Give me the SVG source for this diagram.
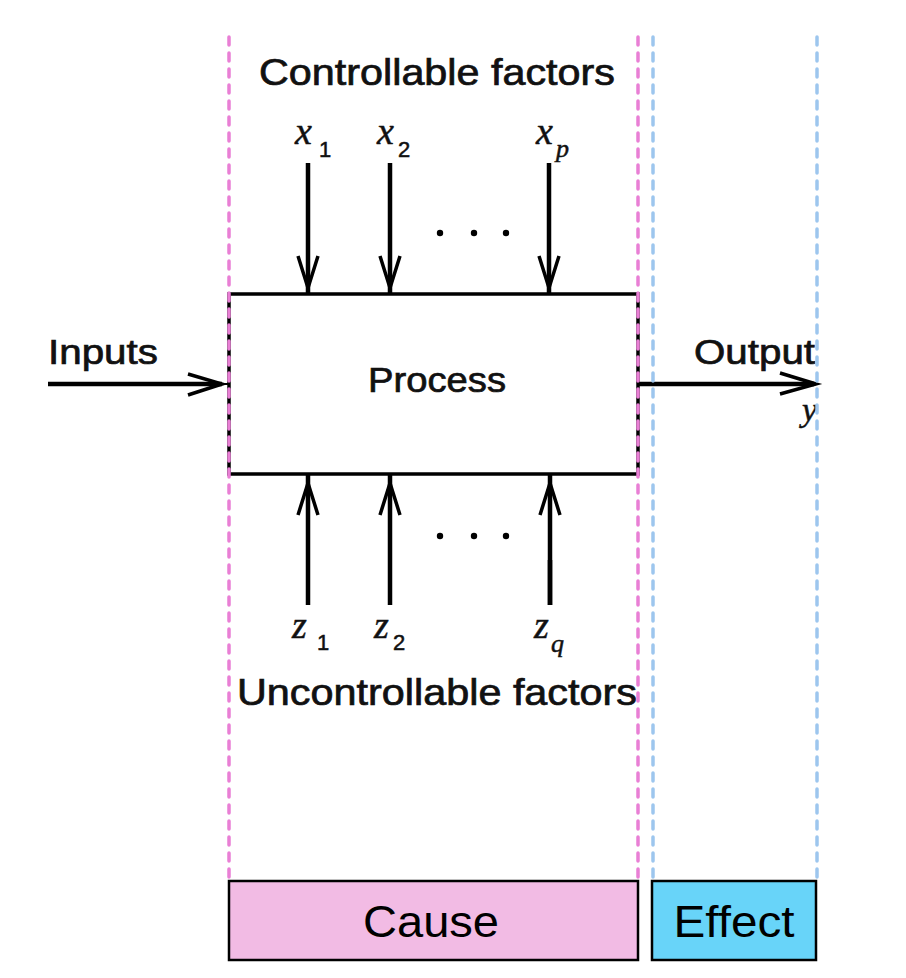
<svg xmlns="http://www.w3.org/2000/svg" width="906" height="978" viewBox="0 0 906 978">
<style>
.lbl{font-family:"Liberation Sans",Arial,sans-serif;fill:#111;stroke:#111;stroke-width:0.7}
.var{font-family:"Liberation Serif","Times New Roman",serif;font-style:italic;fill:#111;stroke:#111;stroke-width:0.5}
.sub{font-family:"Liberation Sans",Arial,sans-serif;fill:#111;stroke:#111;stroke-width:0.5}
.pk{stroke:#E97FD5;stroke-width:3.5;stroke-dasharray:8 8;stroke-linecap:round;fill:none}
.bl{stroke:#9DC6EE;stroke-width:3.5;stroke-dasharray:8 8;stroke-linecap:round;fill:none}
.shaft{stroke:#000;stroke-width:4.5;fill:none}
.head{stroke:#000;stroke-width:3.5;fill:none;stroke-linejoin:miter}
.dot{fill:#000}
.big{font-family:"Liberation Sans",Arial,sans-serif;fill:#000;font-size:45px}
</style>
<rect width="906" height="978" fill="#fff"/>

<g id="process">
<rect x="229" y="294" width="409" height="180" fill="#fff" stroke="#000" stroke-width="3.5"/>
<text class="lbl" x="437" y="392" font-size="35" text-anchor="middle" textLength="138" lengthAdjust="spacingAndGlyphs">Process</text>
</g>

<g id="connectors">
<!-- inputs -->
<line class="shaft" x1="48" y1="384" x2="222" y2="384" stroke-width="6"/>
<line x1="220" y1="384" x2="229" y2="384" stroke="#000" stroke-width="2"/>
<path class="head" d="M188,374 L222,384 L188,395"/>
<!-- output -->
<line class="shaft" x1="638" y1="384" x2="814" y2="384" stroke-width="6"/>
<path class="head" d="M780,373 L816,384 L780,394"/>
<!-- controllable arrows -->
<line class="shaft" x1="308" y1="163" x2="308" y2="294"/>
<path class="head" d="M298,256 L308,288 L318,256"/>
<line class="shaft" x1="390" y1="163" x2="390" y2="294"/>
<path class="head" d="M380,256 L390,288 L400,256"/>
<line class="shaft" x1="549" y1="163" x2="549" y2="294"/>
<path class="head" d="M539,256 L549,288 L559,256"/>
<!-- uncontrollable arrows -->
<line class="shaft" x1="308" y1="605" x2="308" y2="474"/>
<path class="head" d="M298,515 L308,483 L318,515"/>
<line class="shaft" x1="390" y1="605" x2="390" y2="474"/>
<path class="head" d="M380,515 L390,483 L400,515"/>
<line class="shaft" x1="550" y1="605" x2="550" y2="474"/>
<line class="shaft" x1="550" y1="560" x2="550" y2="605" stroke-width="6"/>
<path class="head" d="M540,515 L550,483 L560,515"/>
</g>

<g id="controllable-factors">
<text class="lbl" x="259" y="85" font-size="36" textLength="356" lengthAdjust="spacingAndGlyphs">Controllable factors</text>
<text class="var" x="295" y="144" font-size="38">x</text><text class="sub" x="319" y="157" font-size="22">1</text>
<text class="var" x="377" y="144" font-size="38">x</text><text class="sub" x="398" y="157" font-size="22">2</text>
<text class="var" x="536" y="144" font-size="38">x</text><text class="var" x="556" y="157" font-size="26">p</text>
<circle class="dot" cx="440" cy="233" r="3.2"/>
<circle class="dot" cx="474" cy="233" r="3.2"/>
<circle class="dot" cx="506" cy="233" r="3.2"/>
</g>

<g id="uncontrollable-factors">
<text class="var" x="292" y="638" font-size="38">z</text><text class="sub" x="317" y="650" font-size="22">1</text>
<text class="var" x="374" y="638" font-size="38">z</text><text class="sub" x="393" y="650" font-size="22">2</text>
<text class="var" x="534" y="638" font-size="38">z</text><text class="var" x="551" y="652" font-size="26">q</text>
<circle class="dot" cx="440" cy="536" r="3.2"/>
<circle class="dot" cx="474" cy="536" r="3.2"/>
<circle class="dot" cx="506" cy="536" r="3.2"/>
<text class="lbl" x="237" y="705" font-size="36" textLength="400" lengthAdjust="spacingAndGlyphs">Uncontrollable factors</text>
</g>

<g id="inputs">
<text class="lbl" x="48" y="364" font-size="35" textLength="110" lengthAdjust="spacingAndGlyphs">Inputs</text>
</g>

<g id="output">
<text class="lbl" x="694" y="364" font-size="35" textLength="121" lengthAdjust="spacingAndGlyphs">Output</text>
<text class="var" x="802" y="421" font-size="34">y</text>
</g>

<g id="guides">
<line class="pk" x1="229" y1="37" x2="229" y2="880"/>
<line class="pk" x1="638" y1="37" x2="638" y2="880"/>
<line class="bl" x1="653" y1="37" x2="653" y2="880"/>
<line class="bl" x1="817" y1="37" x2="817" y2="880"/>
</g>

<g id="cause">
<rect x="229" y="881" width="409" height="79" fill="#F2BBE4" stroke="#000" stroke-width="2.5"/>
<text class="big" x="431" y="937" text-anchor="middle" textLength="136" lengthAdjust="spacingAndGlyphs">Cause</text>
</g>

<g id="effect">
<rect x="652" y="881" width="164" height="79" fill="#68D4F9" stroke="#000" stroke-width="2.5"/>
<text class="big" x="734" y="937" text-anchor="middle" textLength="121" lengthAdjust="spacingAndGlyphs">Effect</text>
</g>
</svg>
